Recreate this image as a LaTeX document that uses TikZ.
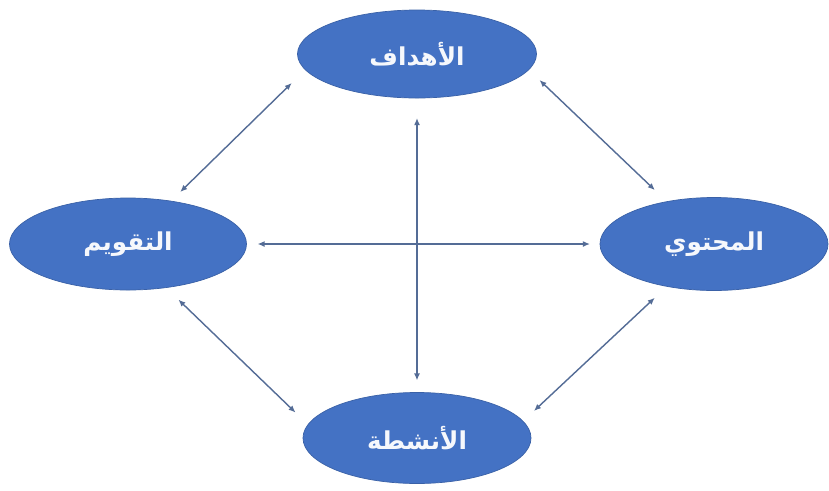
\documentclass[tikz,border=0pt]{standalone}
\usepackage{fontspec}
\newfontfamily\arabicfont[Script=Arabic]{DejaVu Sans}
\TeXXeTstate=1
\usetikzlibrary{shapes.geometric,arrows.meta}
\definecolor{nodeblue}{RGB}{68,114,196}
\definecolor{linkblue}{RGB}{84,108,150}
\begin{document}
\begin{tikzpicture}[x=0.03cm,y=-0.03cm,
        topic/.style={ellipse,fill=nodeblue,draw=nodeblue!85!black,line width=0.6pt,
            inner sep=0pt,outer sep=0pt,text=white!95!nodeblue,
            font=\arabicfont\bfseries\fontsize{21}{24}\selectfont},
        link/.style={draw=linkblue,line width=1.2pt,<->,>={Latex[length=6pt,width=5pt]}}]
        \useasboundingbox[fill=white] (0,0) rectangle (829,490);
        \node[topic,minimum width=7.17cm,minimum height=2.64cm] (goals) at (417,54)
            {\beginR الأهداف\endR};
        \node[topic,minimum width=7.11cm,minimum height=2.76cm] (assess) at (128,244)
            {\beginR التقويم\endR};
        \node[topic,minimum width=6.84cm,minimum height=2.79cm] (content) at (714,244)
            {\beginR المحتوي\endR};
        \node[topic,minimum width=6.84cm,minimum height=2.73cm] (tasks) at (417,438)
            {\beginR الأنشطة\endR};
        % diagonal links
        \draw[link,shorten <=0.57cm,shorten >=0.39cm] (goals.188) -- (assess.45);
        \draw[link,shorten <=0.45cm,shorten >=0.5cm] (goals.352) -- (content.138);
        \draw[link,shorten <=0.52cm,shorten >=0.52cm] (assess.311) -- (tasks.173);
        \draw[link,shorten <=0.5cm,shorten >=0.45cm] (content.222) -- (tasks.9);
        % cross
        \draw[link,shorten <=0.33cm,shorten >=0.3cm] (assess.east) -- (content.west);
        \draw[link,shorten <=0.6cm,shorten >=0.36cm] (goals.south) -- (tasks.north);
    \end{tikzpicture}
\end{document}
